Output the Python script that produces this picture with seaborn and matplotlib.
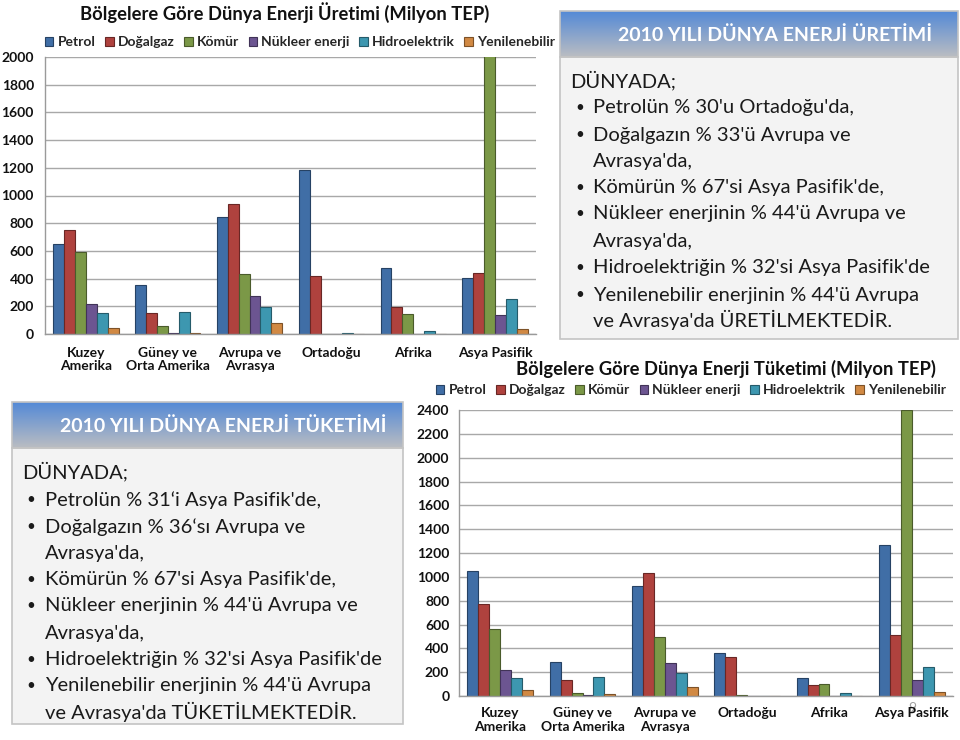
"""
Slide: 2010 world energy production and consumption by region (Milyon TEP).
"""

import matplotlib.pyplot as plt
import numpy as np
import pandas as pd
import seaborn as sns
from matplotlib.colors import to_rgb
from matplotlib.patches import Rectangle

sns.set_theme(style="white")
plt.rcParams["font.family"] = ["Lato", "DejaVu Sans"]

W, H = 960, 740

REGIONS = [
    "Kuzey\nAmerika",
    "Güney ve\nOrta Amerika",
    "Avrupa ve\nAvrasya",
    "Ortadoğu",
    "Afrika",
    "Asya Pasifik",
]
SOURCES = ["Petrol", "Doğalgaz", "Kömür", "Nükleer enerji", "Hidroelektrik", "Yenilenebilir"]
COLORS = ["#2f6cb7", "#c2302b", "#7fa53a", "#6a4b9b", "#2aa2c3", "#e8892c"]

# Üretim (production), regions in REGIONS order
uretim_petrol = [650, 352, 848, 1184, 478, 401]
uretim_dogalgaz = [753, 150, 937, 418, 196, 442]
uretim_komur = [594, 57, 430, 2, 143, 2150]
uretim_nukleer = [215, 4, 275, 0, 3, 136]
uretim_hidro = [150, 157, 198, 4, 24, 251]
uretim_yenilenebilir = [46, 10, 76, 0, 1, 36]

# Tüketim (consumption)
tuketim_petrol = [1045, 284, 927, 357, 155, 1270]
tuketim_dogalgaz = [770, 132, 1028, 331, 96, 512]
tuketim_komur = [559, 25, 492, 9, 97, 2400]
tuketim_nukleer = [216, 5, 273, 1, 3, 138]
tuketim_hidro = [152, 160, 197, 4, 25, 245]
tuketim_yenilenebilir = [48, 14, 73, 1, 1, 34]

uretim_text = [
    "DÜNYADA;",
    "• Petrolün % 30'u Ortadoğu'da,",
    "• Doğalgazın % 33'ü Avrupa ve",
    "  Avrasya'da,",
    "• Kömürün % 67'si Asya Pasifik'de,",
    "• Nükleer enerjinin % 44'ü Avrupa ve",
    "  Avrasya'da,",
    "• Hidroelektriğin % 32'si Asya Pasifik'de",
    "• Yenilenebilir enerjinin % 44'ü Avrupa",
    "  ve Avrasya'da ÜRETİLMEKTEDİR.",
]
tuketim_text = [
    "DÜNYADA;",
    "• Petrolün % 31‘i Asya Pasifik'de,",
    "• Doğalgazın % 36‘sı Avrupa ve",
    "  Avrasya'da,",
    "• Kömürün % 67'si Asya Pasifik'de,",
    "• Nükleer enerjinin % 44'ü Avrupa ve",
    "  Avrasya'da,",
    "• Hidroelektriğin % 32'si Asya Pasifik'de",
    "• Yenilenebilir enerjinin % 44'ü Avrupa",
    "  ve Avrasya'da TÜKETİLMEKTEDİR.",
]


def to_long(series):
    rows = []
    for source, values in zip(SOURCES, series):
        for region, v in zip(REGIONS, values):
            rows.append({"Bölge": region, "Kaynak": source, "Değer": v})
    return pd.DataFrame(rows)


def darker(color, f=0.6):
    return tuple(c * f for c in to_rgb(color))


def fx(x):
    return x / W


def fy(y):
    return 1 - y / H


def draw_chart(fig, box, df, ymax, title, title_xy, legend_xy, ypad, xpad):
    x0, y0, x1, y1 = box
    ax = fig.add_axes([fx(x0), fy(y1), fx(x1 - x0), (y1 - y0) / H])
    sns.barplot(
        data=df, x="Bölge", y="Değer", hue="Kaynak",
        palette=COLORS, width=0.8, ax=ax, legend=True,
    )
    for bar in ax.patches:
        bar.set_edgecolor(darker(bar.get_facecolor()))
        bar.set_linewidth(0.8)

    handles, labels = ax.get_legend_handles_labels()
    ax.get_legend().remove()
    fig.legend(
        handles, labels, loc="center", ncol=6, frameon=False,
        bbox_to_anchor=(fx(legend_xy[0]), fy(legend_xy[1])),
        prop={"weight": "bold", "size": 10},
        handlelength=0.6, handleheight=0.6, handletextpad=0.3, columnspacing=0.7,
        borderaxespad=0, borderpad=0,
    )
    fig.text(fx(title_xy[0]), fy(title_xy[1]), title, ha="center", va="center",
             fontsize=13.2, fontweight="bold", color="#111111")

    ax.set_ylim(0, ymax)
    ax.set_xlim(-0.5, 5.5)
    ax.set_yticks(range(0, ymax + 1, 200))
    ax.set_xticks(np.arange(-0.5, 6, 1), minor=True)
    ax.yaxis.grid(True, color="#a8a8a8", linewidth=1)
    ax.set_axisbelow(True)
    ax.set_xlabel("")
    ax.set_ylabel("")
    ax.tick_params(axis="y", length=0, pad=ypad, labelsize=10)
    ax.tick_params(axis="x", which="major", length=0, pad=xpad, labelsize=10)
    ax.tick_params(axis="x", which="minor", length=4, width=1, color="#999999", direction="out")
    for lab in ax.get_xticklabels() + ax.get_yticklabels():
        lab.set_fontweight("bold")
        lab.set_color("#111111")
        lab.set_linespacing(1.15)
    for side in ["top", "right"]:
        ax.spines[side].set_visible(False)
    for side in ["left", "bottom"]:
        ax.spines[side].set_color("#9a9a9a")
        ax.spines[side].set_linewidth(1)
    return ax


def draw_box(bg, box, header_bottom, header, header_x, lines, line_y, text_x):
    x0, y0, x1, y1 = box
    bg.add_patch(Rectangle((x0, header_bottom), x1 - x0, y1 - header_bottom,
                           facecolor="#f3f3f3", edgecolor="#c4c4c4", linewidth=1.2))
    top = np.array([0.33, 0.54, 0.84])
    bottom = np.array([0.73, 0.74, 0.76])
    t = np.linspace(0, 1, 64)[:, None, None]
    grad = top * (1 - t) + bottom * t
    bg.imshow(grad, extent=[x0, x1, header_bottom, y0], origin="upper",
              aspect="auto", interpolation="bilinear")
    bg.add_patch(Rectangle((x0, y0), x1 - x0, header_bottom - y0,
                           facecolor="none", edgecolor="#c4c4c4", linewidth=1.2))
    bg.text(header_x, (y0 + header_bottom) / 2 + 1, header, ha="center", va="center",
            fontsize=14, fontweight="bold", color="white")
    for s, y in zip(lines, line_y):
        x = text_x[0]
        if s.startswith("• "):
            bg.text(text_x[1], y, "•", ha="center", va="center", fontsize=11, color="#1a1a1a")
            s, x = s[2:], text_x[2]
        elif s.startswith("  "):
            s, x = s[2:], text_x[2]
        bg.text(x, y, s, ha="left", va="center", fontsize=14.5, color="#1a1a1a")


fig = plt.figure(figsize=(W / 100, H / 100), dpi=100)
fig.patch.set_facecolor("white")

bg = fig.add_axes([0, 0, 1, 1], zorder=-1)
bg.axis("off")

draw_box(bg, (560, 11, 958, 339), 57, "2010 YILI DÜNYA ENERJİ ÜRETİMİ", 775,
         uretim_text, [80, 108, 135, 161, 188, 214, 241, 268, 295, 320], (570, 580, 593))
draw_box(bg, (12, 402, 403, 724), 448, "2010 YILI DÜNYA ENERJİ TÜKETİMİ", 223,
         tuketim_text, [471, 500, 527, 553, 580, 606, 633, 660, 686, 712], (22, 31, 45))
bg.text(912, 708, "9", ha="center", va="center", fontsize=10, color="#a0a0a0")
bg.set_xlim(0, W)
bg.set_ylim(H, 0)

uretim = [uretim_petrol, uretim_dogalgaz, uretim_komur,
          uretim_nukleer, uretim_hidro, uretim_yenilenebilir]
tuketim = [tuketim_petrol, tuketim_dogalgaz, tuketim_komur,
           tuketim_nukleer, tuketim_hidro, tuketim_yenilenebilir]

draw_chart(fig, (45, 57, 536, 334), to_long(uretim), 2000,
           "Bölgelere Göre Dünya Enerji Üretimi (Milyon TEP)", (285, 13), (300, 42),
           ypad=8, xpad=9)
draw_chart(fig, (459, 410, 953, 696), to_long(tuketim), 2400,
           "Bölgelere Göre Dünya Enerji Tüketimi (Milyon TEP)", (726, 369), (691, 390),
           ypad=7, xpad=8)

fig.savefig("out.png", dpi=100, facecolor="white")
